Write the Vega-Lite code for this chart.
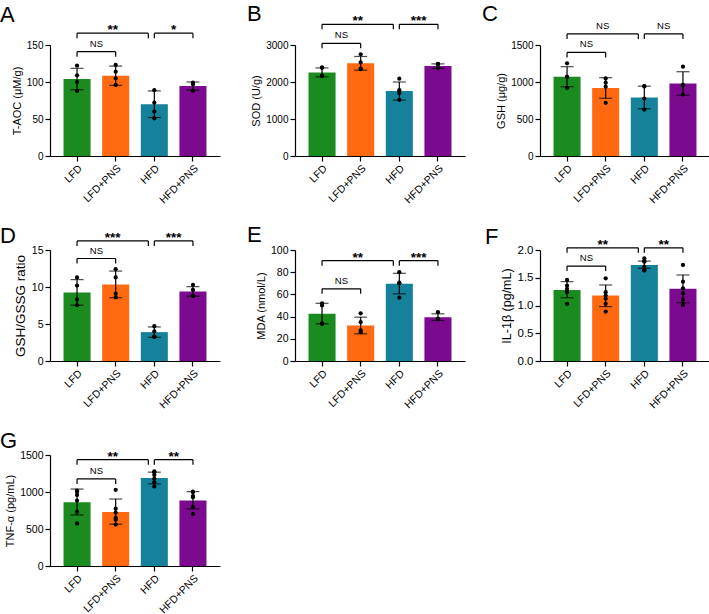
{
"$schema":"https://vega.github.io/schema/vega-lite/v6.json",
"padding":{"left":0,"top":2,"right":5,"bottom":5},
"background":"white",
"datasets":{
"summ":[
{"panel":"A","group":"LFD","mean":104,"lo":89.5,"hi":118.5},
{"panel":"A","group":"LFD+PNS","mean":108.5,"lo":95.5,"hi":121.5},
{"panel":"A","group":"HFD","mean":70,"lo":52,"hi":88},
{"panel":"A","group":"HFD+PNS","mean":94.5,"lo":89,"hi":100},
{"panel":"B","group":"LFD","mean":2260,"lo":2140,"hi":2380},
{"panel":"B","group":"LFD+PNS","mean":2505,"lo":2320,"hi":2690},
{"panel":"B","group":"HFD","mean":1755,"lo":1510,"hi":2000},
{"panel":"B","group":"HFD+PNS","mean":2430,"lo":2370,"hi":2490},
{"panel":"C","group":"LFD","mean":1071,"lo":936,"hi":1207},
{"panel":"C","group":"LFD+PNS","mean":918,"lo":780,"hi":1058},
{"panel":"C","group":"HFD","mean":790,"lo":638,"hi":944},
{"panel":"C","group":"HFD+PNS","mean":980,"lo":822,"hi":1139},
{"panel":"D","group":"LFD","mean":9.25,"lo":7.55,"hi":11.0},
{"panel":"D","group":"LFD+PNS","mean":10.35,"lo":8.55,"hi":12.15},
{"panel":"D","group":"HFD","mean":3.9,"lo":3.2,"hi":4.6},
{"panel":"D","group":"HFD+PNS","mean":9.4,"lo":8.75,"hi":10.05},
{"panel":"E","group":"LFD","mean":42.5,"lo":33.5,"hi":52},
{"panel":"E","group":"LFD+PNS","mean":32,"lo":24.5,"hi":39.5},
{"panel":"E","group":"HFD","mean":69.5,"lo":60.5,"hi":79},
{"panel":"E","group":"HFD+PNS","mean":39.5,"lo":36.5,"hi":42.5},
{"panel":"F","group":"LFD","mean":1.28,"lo":1.14,"hi":1.43},
{"panel":"F","group":"LFD+PNS","mean":1.18,"lo":0.98,"hi":1.37},
{"panel":"F","group":"HFD","mean":1.73,"lo":1.67,"hi":1.80},
{"panel":"F","group":"HFD+PNS","mean":1.30,"lo":1.05,"hi":1.55},
{"panel":"G","group":"LFD","mean":863,"lo":690,"hi":1040},
{"panel":"G","group":"LFD+PNS","mean":730,"lo":565,"hi":905},
{"panel":"G","group":"HFD","mean":1190,"lo":1110,"hi":1268},
{"panel":"G","group":"HFD+PNS","mean":886,"lo":772,"hi":1005}
],
"pts":[
{"panel":"A","group":"LFD","value":122},{"panel":"A","group":"LFD","value":109},{"panel":"A","group":"LFD","value":100},{"panel":"A","group":"LFD","value":88},
{"panel":"A","group":"LFD+PNS","value":123},{"panel":"A","group":"LFD+PNS","value":114},{"panel":"A","group":"LFD+PNS","value":105},{"panel":"A","group":"LFD+PNS","value":96},
{"panel":"A","group":"HFD","value":89},{"panel":"A","group":"HFD","value":72},{"panel":"A","group":"HFD","value":60},{"panel":"A","group":"HFD","value":51},
{"panel":"A","group":"HFD+PNS","value":99},{"panel":"A","group":"HFD+PNS","value":98},{"panel":"A","group":"HFD+PNS","value":97},{"panel":"A","group":"HFD+PNS","value":88},
{"panel":"B","group":"LFD","value":2385},{"panel":"B","group":"LFD","value":2395},{"panel":"B","group":"LFD","value":2170},{"panel":"B","group":"LFD","value":2160},
{"panel":"B","group":"LFD+PNS","value":2750},{"panel":"B","group":"LFD+PNS","value":2530},{"panel":"B","group":"LFD+PNS","value":2360},{"panel":"B","group":"LFD+PNS","value":2350},
{"panel":"B","group":"HFD","value":2090},{"panel":"B","group":"HFD","value":1780},{"panel":"B","group":"HFD","value":1700},{"panel":"B","group":"HFD","value":1520},
{"panel":"B","group":"HFD+PNS","value":2480},{"panel":"B","group":"HFD+PNS","value":2490},{"panel":"B","group":"HFD+PNS","value":2400},{"panel":"B","group":"HFD+PNS","value":2380},
{"panel":"C","group":"LFD","value":1252},{"panel":"C","group":"LFD","value":1071},{"panel":"C","group":"LFD","value":1068},{"panel":"C","group":"LFD","value":922},
{"panel":"C","group":"LFD+PNS","value":1048},{"panel":"C","group":"LFD+PNS","value":990},{"panel":"C","group":"LFD+PNS","value":936},{"panel":"C","group":"LFD+PNS","value":719},
{"panel":"C","group":"HFD","value":945},{"panel":"C","group":"HFD","value":940},{"panel":"C","group":"HFD","value":777},{"panel":"C","group":"HFD","value":628},
{"panel":"C","group":"HFD+PNS","value":1207},{"panel":"C","group":"HFD+PNS","value":960},{"panel":"C","group":"HFD+PNS","value":955},{"panel":"C","group":"HFD+PNS","value":831},
{"panel":"D","group":"LFD","value":11.3},{"panel":"D","group":"LFD","value":10.2},{"panel":"D","group":"LFD","value":8.3},{"panel":"D","group":"LFD","value":7.55},
{"panel":"D","group":"LFD+PNS","value":12.4},{"panel":"D","group":"LFD+PNS","value":11.3},{"panel":"D","group":"LFD+PNS","value":9.1},{"panel":"D","group":"LFD+PNS","value":8.6},
{"panel":"D","group":"HFD","value":4.7},{"panel":"D","group":"HFD","value":4.0},{"panel":"D","group":"HFD","value":3.25},{"panel":"D","group":"HFD","value":3.3},
{"panel":"D","group":"HFD+PNS","value":10.3},{"panel":"D","group":"HFD+PNS","value":9.6},{"panel":"D","group":"HFD+PNS","value":8.85},{"panel":"D","group":"HFD+PNS","value":8.8},
{"panel":"E","group":"LFD","value":50},{"panel":"E","group":"LFD","value":52},{"panel":"E","group":"LFD","value":34},{"panel":"E","group":"LFD","value":33.5},
{"panel":"E","group":"LFD+PNS","value":43},{"panel":"E","group":"LFD+PNS","value":35},{"panel":"E","group":"LFD+PNS","value":27.5},{"panel":"E","group":"LFD+PNS","value":26},
{"panel":"E","group":"HFD","value":80},{"panel":"E","group":"HFD","value":70.5},{"panel":"E","group":"HFD","value":70},{"panel":"E","group":"HFD","value":57},
{"panel":"E","group":"HFD+PNS","value":44},{"panel":"E","group":"HFD+PNS","value":38},{"panel":"E","group":"HFD+PNS","value":38.2},{"panel":"E","group":"HFD+PNS","value":37.8},
{"panel":"F","group":"LFD","value":1.46},{"panel":"F","group":"LFD","value":1.36},{"panel":"F","group":"LFD","value":1.30},{"panel":"F","group":"LFD","value":1.26},{"panel":"F","group":"LFD","value":1.24},{"panel":"F","group":"LFD","value":1.03},
{"panel":"F","group":"LFD+PNS","value":1.49},{"panel":"F","group":"LFD+PNS","value":1.24},{"panel":"F","group":"LFD+PNS","value":1.18},{"panel":"F","group":"LFD+PNS","value":1.12},{"panel":"F","group":"LFD+PNS","value":1.03},{"panel":"F","group":"LFD+PNS","value":0.89},
{"panel":"F","group":"HFD","value":1.85},{"panel":"F","group":"HFD","value":1.80},{"panel":"F","group":"HFD","value":1.79},{"panel":"F","group":"HFD","value":1.70},{"panel":"F","group":"HFD","value":1.64},{"panel":"F","group":"HFD","value":1.63},
{"panel":"F","group":"HFD+PNS","value":1.73},{"panel":"F","group":"HFD+PNS","value":1.43},{"panel":"F","group":"HFD+PNS","value":1.31},{"panel":"F","group":"HFD+PNS","value":1.22},{"panel":"F","group":"HFD+PNS","value":1.10},{"panel":"F","group":"HFD+PNS","value":1.01},
{"panel":"G","group":"LFD","value":1020},{"panel":"G","group":"LFD","value":1005},{"panel":"G","group":"LFD","value":960},{"panel":"G","group":"LFD","value":885},{"panel":"G","group":"LFD","value":730},{"panel":"G","group":"LFD","value":575},
{"panel":"G","group":"LFD+PNS","value":1030},{"panel":"G","group":"LFD+PNS","value":775},{"panel":"G","group":"LFD+PNS","value":720},{"panel":"G","group":"LFD+PNS","value":650},{"panel":"G","group":"LFD+PNS","value":625},{"panel":"G","group":"LFD+PNS","value":560},
{"panel":"G","group":"HFD","value":1265},{"panel":"G","group":"HFD","value":1280},{"panel":"G","group":"HFD","value":1230},{"panel":"G","group":"HFD","value":1180},{"panel":"G","group":"HFD","value":1130},{"panel":"G","group":"HFD","value":1075},
{"panel":"G","group":"HFD+PNS","value":1005},{"panel":"G","group":"HFD+PNS","value":1000},{"panel":"G","group":"HFD+PNS","value":945},{"panel":"G","group":"HFD+PNS","value":930},{"panel":"G","group":"HFD+PNS","value":795},{"panel":"G","group":"HFD+PNS","value":700}
],
"sig":[
{"panel":"A","from":"LFD","to":"LFD+PNS","level":141,"label":"NS"},
{"panel":"A","from":"LFD","to":"HFD","level":166,"label":"**"},
{"panel":"A","from":"HFD","to":"HFD+PNS","level":166,"label":"*"},
{"panel":"B","from":"LFD","to":"LFD+PNS","level":3045,"label":"NS"},
{"panel":"B","from":"LFD","to":"HFD","level":3560,"label":"**"},
{"panel":"B","from":"HFD","to":"HFD+PNS","level":3560,"label":"***"},
{"panel":"C","from":"LFD","to":"LFD+PNS","level":1400,"label":"NS"},
{"panel":"C","from":"LFD","to":"HFD","level":1649,"label":"NS"},
{"panel":"C","from":"HFD","to":"HFD+PNS","level":1649,"label":"NS"},
{"panel":"D","from":"LFD","to":"LFD+PNS","level":13.85,"label":"NS"},
{"panel":"D","from":"LFD","to":"HFD","level":16.23,"label":"***"},
{"panel":"D","from":"HFD","to":"HFD+PNS","level":16.23,"label":"***"},
{"panel":"E","from":"LFD","to":"LFD+PNS","level":65,"label":"NS"},
{"panel":"E","from":"LFD","to":"HFD","level":90.4,"label":"**"},
{"panel":"E","from":"HFD","to":"HFD+PNS","level":90.4,"label":"***"},
{"panel":"F","from":"LFD","to":"LFD+PNS","level":1.71,"label":"NS"},
{"panel":"F","from":"LFD","to":"HFD","level":2.04,"label":"**"},
{"panel":"F","from":"HFD","to":"HFD+PNS","level":2.04,"label":"**"},
{"panel":"G","from":"LFD","to":"LFD+PNS","level":1177,"label":"NS"},
{"panel":"G","from":"LFD","to":"HFD","level":1437,"label":"**"},
{"panel":"G","from":"HFD","to":"HFD+PNS","level":1437,"label":"**"}
]
},
"columns":3,
"bounds":"flush",
"spacing":{"row":94,"column":75},
"concat":[
{"width":170,"height":111,"title":{"text":"A","dx":-50,"dy":8},
"encoding":{"x":{"field":"group","type":"nominal","scale":{"domain":["LFD","LFD+PNS","HFD","HFD+PNS"],"paddingInner":0.3,"paddingOuter":0.35},"axis":{"title":null}}},
"layer":[
{"data":{"name":"summ"},"transform":[{"filter":"datum.panel==='A'"}],"mark":{"type":"bar"},"encoding":{"y":{"field":"mean","type":"quantitative","scale":{"domain":[0,150],"nice":false},"axis":{"title":"T-AOC (μM/g)","values":[0,50,100,150]}},"color":{"field":"group","type":"nominal","scale":{"domain":["LFD","LFD+PNS","HFD","HFD+PNS"],"range":["#1a8c1f","#ff6a10","#15819a","#7c0a8e"]},"legend":null}}},
{"data":{"name":"summ"},"transform":[{"filter":"datum.panel==='A'"}],"mark":{"type":"rule","color":"#000","strokeWidth":1.2},"encoding":{"y":{"field":"lo","type":"quantitative","axis":{"title":"T-AOC (μM/g)","values":[0,50,100,150]}},"y2":{"field":"hi"}}},
{"data":{"name":"summ"},"transform":[{"filter":"datum.panel==='A'"}],"mark":{"type":"tick","color":"#000","size":13,"thickness":1.2},"encoding":{"y":{"field":"lo","type":"quantitative","axis":{"title":"T-AOC (μM/g)","values":[0,50,100,150]}}}},
{"data":{"name":"summ"},"transform":[{"filter":"datum.panel==='A'"}],"mark":{"type":"tick","color":"#000","size":13,"thickness":1.2},"encoding":{"y":{"field":"hi","type":"quantitative","axis":{"title":"T-AOC (μM/g)","values":[0,50,100,150]}}}},
{"data":{"name":"pts"},"transform":[{"filter":"datum.panel==='A'"}],"mark":{"type":"circle","color":"#000","size":18,"opacity":1},"encoding":{"y":{"field":"value","type":"quantitative","axis":{"title":"T-AOC (μM/g)","values":[0,50,100,150]}}}},
{"data":{"name":"sig"},"transform":[{"filter":"datum.panel==='A' && datum.to!=='HFD'"}],"mark":{"type":"rule","color":"#000","strokeWidth":1.2},"encoding":{"x":{"field":"from","type":"nominal"},"x2":{"field":"to"},"y":{"field":"level","type":"quantitative","axis":{"title":"T-AOC (μM/g)","values":[0,50,100,150]}}}},
{"data":{"name":"sig"},"transform":[{"filter":"datum.panel==='A' && datum.to==='HFD'"}],"mark":{"type":"rule","color":"#000","strokeWidth":1.2,"x2Offset":-6},"encoding":{"x":{"field":"from","type":"nominal"},"x2":{"field":"to"},"y":{"field":"level","type":"quantitative","axis":{"title":"T-AOC (μM/g)","values":[0,50,100,150]}}}},
{"data":{"name":"sig"},"transform":[{"filter":"datum.panel==='A'"}],"mark":{"type":"rule","color":"#000","strokeWidth":1.2,"y2Offset":5},"encoding":{"x":{"field":"from","type":"nominal"},"y":{"field":"level","type":"quantitative","axis":{"title":"T-AOC (μM/g)","values":[0,50,100,150]}},"y2":{"field":"level"}}},
{"data":{"name":"sig"},"transform":[{"filter":"datum.panel==='A' && datum.to!=='HFD'"}],"mark":{"type":"rule","color":"#000","strokeWidth":1.2,"y2Offset":5},"encoding":{"x":{"field":"to","type":"nominal"},"y":{"field":"level","type":"quantitative","axis":{"title":"T-AOC (μM/g)","values":[0,50,100,150]}},"y2":{"field":"level"}}},
{"data":{"name":"sig"},"transform":[{"filter":"datum.panel==='A' && datum.to==='HFD'"}],"mark":{"type":"rule","color":"#000","strokeWidth":1.2,"y2Offset":5,"xOffset":-6},"encoding":{"x":{"field":"to","type":"nominal"},"y":{"field":"level","type":"quantitative","axis":{"title":"T-AOC (μM/g)","values":[0,50,100,150]}},"y2":{"field":"level"}}},
{"data":{"name":"sig"},"transform":[{"filter":"datum.panel==='A' && datum.to!=='HFD' && datum.label==='NS'"}],"mark":{"type":"text","fontSize":9.5,"baseline":"alphabetic","dy":-5},"encoding":{"x":{"field":"from","type":"nominal","bandPosition":1.2143},"y":{"field":"level","type":"quantitative","axis":{"title":"T-AOC (μM/g)","values":[0,50,100,150]}},"text":{"field":"label"}}},
{"data":{"name":"sig"},"transform":[{"filter":"datum.panel==='A' && datum.to!=='HFD' && datum.label!=='NS'"}],"mark":{"type":"text","fontSize":13.5,"fontWeight":"bold","baseline":"alphabetic","dy":1},"encoding":{"x":{"field":"from","type":"nominal","bandPosition":1.2143},"y":{"field":"level","type":"quantitative","axis":{"title":"T-AOC (μM/g)","values":[0,50,100,150]}},"text":{"field":"label"}}},
{"data":{"name":"sig"},"transform":[{"filter":"datum.panel==='A' && datum.to==='HFD' && datum.label==='NS'"}],"mark":{"type":"text","fontSize":9.5,"baseline":"alphabetic","dy":-5,"dx":-3},"encoding":{"x":{"field":"from","type":"nominal","bandPosition":1.9286},"y":{"field":"level","type":"quantitative","axis":{"title":"T-AOC (μM/g)","values":[0,50,100,150]}},"text":{"field":"label"}}},
{"data":{"name":"sig"},"transform":[{"filter":"datum.panel==='A' && datum.to==='HFD' && datum.label!=='NS'"}],"mark":{"type":"text","fontSize":13.5,"fontWeight":"bold","baseline":"alphabetic","dy":1,"dx":-3},"encoding":{"x":{"field":"from","type":"nominal","bandPosition":1.9286},"y":{"field":"level","type":"quantitative","axis":{"title":"T-AOC (μM/g)","values":[0,50,100,150]}},"text":{"field":"label"}}}
]},
{"width":170,"height":111,"title":{"text":"B","dx":-48,"dy":16},
"encoding":{"x":{"field":"group","type":"nominal","scale":{"domain":["LFD","LFD+PNS","HFD","HFD+PNS"],"paddingInner":0.3,"paddingOuter":0.35},"axis":{"title":null}}},
"layer":[
{"data":{"name":"summ"},"transform":[{"filter":"datum.panel==='B'"}],"mark":{"type":"bar"},"encoding":{"y":{"field":"mean","type":"quantitative","scale":{"domain":[0,3000],"nice":false},"axis":{"title":"SOD (U/g)","values":[0,1000,2000,3000],"format":"d"}},"color":{"field":"group","type":"nominal","scale":{"domain":["LFD","LFD+PNS","HFD","HFD+PNS"],"range":["#1a8c1f","#ff6a10","#15819a","#7c0a8e"]},"legend":null}}},
{"data":{"name":"summ"},"transform":[{"filter":"datum.panel==='B'"}],"mark":{"type":"rule","color":"#000","strokeWidth":1.2},"encoding":{"y":{"field":"lo","type":"quantitative","axis":{"title":"SOD (U/g)","values":[0,1000,2000,3000],"format":"d"}},"y2":{"field":"hi"}}},
{"data":{"name":"summ"},"transform":[{"filter":"datum.panel==='B'"}],"mark":{"type":"tick","color":"#000","size":13,"thickness":1.2},"encoding":{"y":{"field":"lo","type":"quantitative","axis":{"title":"SOD (U/g)","values":[0,1000,2000,3000],"format":"d"}}}},
{"data":{"name":"summ"},"transform":[{"filter":"datum.panel==='B'"}],"mark":{"type":"tick","color":"#000","size":13,"thickness":1.2},"encoding":{"y":{"field":"hi","type":"quantitative","axis":{"title":"SOD (U/g)","values":[0,1000,2000,3000],"format":"d"}}}},
{"data":{"name":"pts"},"transform":[{"filter":"datum.panel==='B'"}],"mark":{"type":"circle","color":"#000","size":18,"opacity":1},"encoding":{"y":{"field":"value","type":"quantitative","axis":{"title":"SOD (U/g)","values":[0,1000,2000,3000],"format":"d"}}}},
{"data":{"name":"sig"},"transform":[{"filter":"datum.panel==='B' && datum.to!=='HFD'"}],"mark":{"type":"rule","color":"#000","strokeWidth":1.2},"encoding":{"x":{"field":"from","type":"nominal"},"x2":{"field":"to"},"y":{"field":"level","type":"quantitative","axis":{"title":"SOD (U/g)","values":[0,1000,2000,3000],"format":"d"}}}},
{"data":{"name":"sig"},"transform":[{"filter":"datum.panel==='B' && datum.to==='HFD'"}],"mark":{"type":"rule","color":"#000","strokeWidth":1.2,"x2Offset":-6},"encoding":{"x":{"field":"from","type":"nominal"},"x2":{"field":"to"},"y":{"field":"level","type":"quantitative","axis":{"title":"SOD (U/g)","values":[0,1000,2000,3000],"format":"d"}}}},
{"data":{"name":"sig"},"transform":[{"filter":"datum.panel==='B'"}],"mark":{"type":"rule","color":"#000","strokeWidth":1.2,"y2Offset":5},"encoding":{"x":{"field":"from","type":"nominal"},"y":{"field":"level","type":"quantitative","axis":{"title":"SOD (U/g)","values":[0,1000,2000,3000],"format":"d"}},"y2":{"field":"level"}}},
{"data":{"name":"sig"},"transform":[{"filter":"datum.panel==='B' && datum.to!=='HFD'"}],"mark":{"type":"rule","color":"#000","strokeWidth":1.2,"y2Offset":5},"encoding":{"x":{"field":"to","type":"nominal"},"y":{"field":"level","type":"quantitative","axis":{"title":"SOD (U/g)","values":[0,1000,2000,3000],"format":"d"}},"y2":{"field":"level"}}},
{"data":{"name":"sig"},"transform":[{"filter":"datum.panel==='B' && datum.to==='HFD'"}],"mark":{"type":"rule","color":"#000","strokeWidth":1.2,"y2Offset":5,"xOffset":-6},"encoding":{"x":{"field":"to","type":"nominal"},"y":{"field":"level","type":"quantitative","axis":{"title":"SOD (U/g)","values":[0,1000,2000,3000],"format":"d"}},"y2":{"field":"level"}}},
{"data":{"name":"sig"},"transform":[{"filter":"datum.panel==='B' && datum.to!=='HFD' && datum.label==='NS'"}],"mark":{"type":"text","fontSize":9.5,"baseline":"alphabetic","dy":-5},"encoding":{"x":{"field":"from","type":"nominal","bandPosition":1.2143},"y":{"field":"level","type":"quantitative","axis":{"title":"SOD (U/g)","values":[0,1000,2000,3000],"format":"d"}},"text":{"field":"label"}}},
{"data":{"name":"sig"},"transform":[{"filter":"datum.panel==='B' && datum.to!=='HFD' && datum.label!=='NS'"}],"mark":{"type":"text","fontSize":13.5,"fontWeight":"bold","baseline":"alphabetic","dy":1},"encoding":{"x":{"field":"from","type":"nominal","bandPosition":1.2143},"y":{"field":"level","type":"quantitative","axis":{"title":"SOD (U/g)","values":[0,1000,2000,3000],"format":"d"}},"text":{"field":"label"}}},
{"data":{"name":"sig"},"transform":[{"filter":"datum.panel==='B' && datum.to==='HFD' && datum.label==='NS'"}],"mark":{"type":"text","fontSize":9.5,"baseline":"alphabetic","dy":-5,"dx":-3},"encoding":{"x":{"field":"from","type":"nominal","bandPosition":1.9286},"y":{"field":"level","type":"quantitative","axis":{"title":"SOD (U/g)","values":[0,1000,2000,3000],"format":"d"}},"text":{"field":"label"}}},
{"data":{"name":"sig"},"transform":[{"filter":"datum.panel==='B' && datum.to==='HFD' && datum.label!=='NS'"}],"mark":{"type":"text","fontSize":13.5,"fontWeight":"bold","baseline":"alphabetic","dy":1,"dx":-3},"encoding":{"x":{"field":"from","type":"nominal","bandPosition":1.9286},"y":{"field":"level","type":"quantitative","axis":{"title":"SOD (U/g)","values":[0,1000,2000,3000],"format":"d"}},"text":{"field":"label"}}}
]},
{"width":170,"height":111,"title":{"text":"C","dx":-58,"dy":9},
"encoding":{"x":{"field":"group","type":"nominal","scale":{"domain":["LFD","LFD+PNS","HFD","HFD+PNS"],"paddingInner":0.3,"paddingOuter":0.35},"axis":{"title":null}}},
"layer":[
{"data":{"name":"summ"},"transform":[{"filter":"datum.panel==='C'"}],"mark":{"type":"bar"},"encoding":{"y":{"field":"mean","type":"quantitative","scale":{"domain":[0,1500],"nice":false},"axis":{"title":"GSH (μg/g)","values":[0,500,1000,1500],"format":"d"}},"color":{"field":"group","type":"nominal","scale":{"domain":["LFD","LFD+PNS","HFD","HFD+PNS"],"range":["#1a8c1f","#ff6a10","#15819a","#7c0a8e"]},"legend":null}}},
{"data":{"name":"summ"},"transform":[{"filter":"datum.panel==='C'"}],"mark":{"type":"rule","color":"#000","strokeWidth":1.2},"encoding":{"y":{"field":"lo","type":"quantitative","axis":{"title":"GSH (μg/g)","values":[0,500,1000,1500],"format":"d"}},"y2":{"field":"hi"}}},
{"data":{"name":"summ"},"transform":[{"filter":"datum.panel==='C'"}],"mark":{"type":"tick","color":"#000","size":13,"thickness":1.2},"encoding":{"y":{"field":"lo","type":"quantitative","axis":{"title":"GSH (μg/g)","values":[0,500,1000,1500],"format":"d"}}}},
{"data":{"name":"summ"},"transform":[{"filter":"datum.panel==='C'"}],"mark":{"type":"tick","color":"#000","size":13,"thickness":1.2},"encoding":{"y":{"field":"hi","type":"quantitative","axis":{"title":"GSH (μg/g)","values":[0,500,1000,1500],"format":"d"}}}},
{"data":{"name":"pts"},"transform":[{"filter":"datum.panel==='C'"}],"mark":{"type":"circle","color":"#000","size":18,"opacity":1},"encoding":{"y":{"field":"value","type":"quantitative","axis":{"title":"GSH (μg/g)","values":[0,500,1000,1500],"format":"d"}}}},
{"data":{"name":"sig"},"transform":[{"filter":"datum.panel==='C' && datum.to!=='HFD'"}],"mark":{"type":"rule","color":"#000","strokeWidth":1.2},"encoding":{"x":{"field":"from","type":"nominal"},"x2":{"field":"to"},"y":{"field":"level","type":"quantitative","axis":{"title":"GSH (μg/g)","values":[0,500,1000,1500],"format":"d"}}}},
{"data":{"name":"sig"},"transform":[{"filter":"datum.panel==='C' && datum.to==='HFD'"}],"mark":{"type":"rule","color":"#000","strokeWidth":1.2,"x2Offset":-6},"encoding":{"x":{"field":"from","type":"nominal"},"x2":{"field":"to"},"y":{"field":"level","type":"quantitative","axis":{"title":"GSH (μg/g)","values":[0,500,1000,1500],"format":"d"}}}},
{"data":{"name":"sig"},"transform":[{"filter":"datum.panel==='C'"}],"mark":{"type":"rule","color":"#000","strokeWidth":1.2,"y2Offset":5},"encoding":{"x":{"field":"from","type":"nominal"},"y":{"field":"level","type":"quantitative","axis":{"title":"GSH (μg/g)","values":[0,500,1000,1500],"format":"d"}},"y2":{"field":"level"}}},
{"data":{"name":"sig"},"transform":[{"filter":"datum.panel==='C' && datum.to!=='HFD'"}],"mark":{"type":"rule","color":"#000","strokeWidth":1.2,"y2Offset":5},"encoding":{"x":{"field":"to","type":"nominal"},"y":{"field":"level","type":"quantitative","axis":{"title":"GSH (μg/g)","values":[0,500,1000,1500],"format":"d"}},"y2":{"field":"level"}}},
{"data":{"name":"sig"},"transform":[{"filter":"datum.panel==='C' && datum.to==='HFD'"}],"mark":{"type":"rule","color":"#000","strokeWidth":1.2,"y2Offset":5,"xOffset":-6},"encoding":{"x":{"field":"to","type":"nominal"},"y":{"field":"level","type":"quantitative","axis":{"title":"GSH (μg/g)","values":[0,500,1000,1500],"format":"d"}},"y2":{"field":"level"}}},
{"data":{"name":"sig"},"transform":[{"filter":"datum.panel==='C' && datum.to!=='HFD' && datum.label==='NS'"}],"mark":{"type":"text","fontSize":9.5,"baseline":"alphabetic","dy":-5},"encoding":{"x":{"field":"from","type":"nominal","bandPosition":1.2143},"y":{"field":"level","type":"quantitative","axis":{"title":"GSH (μg/g)","values":[0,500,1000,1500],"format":"d"}},"text":{"field":"label"}}},
{"data":{"name":"sig"},"transform":[{"filter":"datum.panel==='C' && datum.to!=='HFD' && datum.label!=='NS'"}],"mark":{"type":"text","fontSize":13.5,"fontWeight":"bold","baseline":"alphabetic","dy":1},"encoding":{"x":{"field":"from","type":"nominal","bandPosition":1.2143},"y":{"field":"level","type":"quantitative","axis":{"title":"GSH (μg/g)","values":[0,500,1000,1500],"format":"d"}},"text":{"field":"label"}}},
{"data":{"name":"sig"},"transform":[{"filter":"datum.panel==='C' && datum.to==='HFD' && datum.label==='NS'"}],"mark":{"type":"text","fontSize":9.5,"baseline":"alphabetic","dy":-5,"dx":-3},"encoding":{"x":{"field":"from","type":"nominal","bandPosition":1.9286},"y":{"field":"level","type":"quantitative","axis":{"title":"GSH (μg/g)","values":[0,500,1000,1500],"format":"d"}},"text":{"field":"label"}}},
{"data":{"name":"sig"},"transform":[{"filter":"datum.panel==='C' && datum.to==='HFD' && datum.label!=='NS'"}],"mark":{"type":"text","fontSize":13.5,"fontWeight":"bold","baseline":"alphabetic","dy":1,"dx":-3},"encoding":{"x":{"field":"from","type":"nominal","bandPosition":1.9286},"y":{"field":"level","type":"quantitative","axis":{"title":"GSH (μg/g)","values":[0,500,1000,1500],"format":"d"}},"text":{"field":"label"}}}
]},
{"width":170,"height":111,"title":{"text":"D","dx":-50,"dy":21},
"encoding":{"x":{"field":"group","type":"nominal","scale":{"domain":["LFD","LFD+PNS","HFD","HFD+PNS"],"paddingInner":0.3,"paddingOuter":0.35},"axis":{"title":null}}},
"layer":[
{"data":{"name":"summ"},"transform":[{"filter":"datum.panel==='D'"}],"mark":{"type":"bar"},"encoding":{"y":{"field":"mean","type":"quantitative","scale":{"domain":[0,15],"nice":false},"axis":{"title":"GSH/GSSG ratio","values":[0,5,10,15],"titleFontSize":13.5,"labelFontSize":10.5}},"color":{"field":"group","type":"nominal","scale":{"domain":["LFD","LFD+PNS","HFD","HFD+PNS"],"range":["#1a8c1f","#ff6a10","#15819a","#7c0a8e"]},"legend":null}}},
{"data":{"name":"summ"},"transform":[{"filter":"datum.panel==='D'"}],"mark":{"type":"rule","color":"#000","strokeWidth":1.2},"encoding":{"y":{"field":"lo","type":"quantitative","axis":{"title":"GSH/GSSG ratio","values":[0,5,10,15],"titleFontSize":13.5,"labelFontSize":10.5}},"y2":{"field":"hi"}}},
{"data":{"name":"summ"},"transform":[{"filter":"datum.panel==='D'"}],"mark":{"type":"tick","color":"#000","size":13,"thickness":1.2},"encoding":{"y":{"field":"lo","type":"quantitative","axis":{"title":"GSH/GSSG ratio","values":[0,5,10,15],"titleFontSize":13.5,"labelFontSize":10.5}}}},
{"data":{"name":"summ"},"transform":[{"filter":"datum.panel==='D'"}],"mark":{"type":"tick","color":"#000","size":13,"thickness":1.2},"encoding":{"y":{"field":"hi","type":"quantitative","axis":{"title":"GSH/GSSG ratio","values":[0,5,10,15],"titleFontSize":13.5,"labelFontSize":10.5}}}},
{"data":{"name":"pts"},"transform":[{"filter":"datum.panel==='D'"}],"mark":{"type":"circle","color":"#000","size":18,"opacity":1},"encoding":{"y":{"field":"value","type":"quantitative","axis":{"title":"GSH/GSSG ratio","values":[0,5,10,15],"titleFontSize":13.5,"labelFontSize":10.5}}}},
{"data":{"name":"sig"},"transform":[{"filter":"datum.panel==='D' && datum.to!=='HFD'"}],"mark":{"type":"rule","color":"#000","strokeWidth":1.2},"encoding":{"x":{"field":"from","type":"nominal"},"x2":{"field":"to"},"y":{"field":"level","type":"quantitative","axis":{"title":"GSH/GSSG ratio","values":[0,5,10,15],"titleFontSize":13.5,"labelFontSize":10.5}}}},
{"data":{"name":"sig"},"transform":[{"filter":"datum.panel==='D' && datum.to==='HFD'"}],"mark":{"type":"rule","color":"#000","strokeWidth":1.2,"x2Offset":-6},"encoding":{"x":{"field":"from","type":"nominal"},"x2":{"field":"to"},"y":{"field":"level","type":"quantitative","axis":{"title":"GSH/GSSG ratio","values":[0,5,10,15],"titleFontSize":13.5,"labelFontSize":10.5}}}},
{"data":{"name":"sig"},"transform":[{"filter":"datum.panel==='D'"}],"mark":{"type":"rule","color":"#000","strokeWidth":1.2,"y2Offset":5},"encoding":{"x":{"field":"from","type":"nominal"},"y":{"field":"level","type":"quantitative","axis":{"title":"GSH/GSSG ratio","values":[0,5,10,15],"titleFontSize":13.5,"labelFontSize":10.5}},"y2":{"field":"level"}}},
{"data":{"name":"sig"},"transform":[{"filter":"datum.panel==='D' && datum.to!=='HFD'"}],"mark":{"type":"rule","color":"#000","strokeWidth":1.2,"y2Offset":5},"encoding":{"x":{"field":"to","type":"nominal"},"y":{"field":"level","type":"quantitative","axis":{"title":"GSH/GSSG ratio","values":[0,5,10,15],"titleFontSize":13.5,"labelFontSize":10.5}},"y2":{"field":"level"}}},
{"data":{"name":"sig"},"transform":[{"filter":"datum.panel==='D' && datum.to==='HFD'"}],"mark":{"type":"rule","color":"#000","strokeWidth":1.2,"y2Offset":5,"xOffset":-6},"encoding":{"x":{"field":"to","type":"nominal"},"y":{"field":"level","type":"quantitative","axis":{"title":"GSH/GSSG ratio","values":[0,5,10,15],"titleFontSize":13.5,"labelFontSize":10.5}},"y2":{"field":"level"}}},
{"data":{"name":"sig"},"transform":[{"filter":"datum.panel==='D' && datum.to!=='HFD' && datum.label==='NS'"}],"mark":{"type":"text","fontSize":9.5,"baseline":"alphabetic","dy":-5},"encoding":{"x":{"field":"from","type":"nominal","bandPosition":1.2143},"y":{"field":"level","type":"quantitative","axis":{"title":"GSH/GSSG ratio","values":[0,5,10,15],"titleFontSize":13.5,"labelFontSize":10.5}},"text":{"field":"label"}}},
{"data":{"name":"sig"},"transform":[{"filter":"datum.panel==='D' && datum.to!=='HFD' && datum.label!=='NS'"}],"mark":{"type":"text","fontSize":13.5,"fontWeight":"bold","baseline":"alphabetic","dy":1},"encoding":{"x":{"field":"from","type":"nominal","bandPosition":1.2143},"y":{"field":"level","type":"quantitative","axis":{"title":"GSH/GSSG ratio","values":[0,5,10,15],"titleFontSize":13.5,"labelFontSize":10.5}},"text":{"field":"label"}}},
{"data":{"name":"sig"},"transform":[{"filter":"datum.panel==='D' && datum.to==='HFD' && datum.label==='NS'"}],"mark":{"type":"text","fontSize":9.5,"baseline":"alphabetic","dy":-5,"dx":-3},"encoding":{"x":{"field":"from","type":"nominal","bandPosition":1.9286},"y":{"field":"level","type":"quantitative","axis":{"title":"GSH/GSSG ratio","values":[0,5,10,15],"titleFontSize":13.5,"labelFontSize":10.5}},"text":{"field":"label"}}},
{"data":{"name":"sig"},"transform":[{"filter":"datum.panel==='D' && datum.to==='HFD' && datum.label!=='NS'"}],"mark":{"type":"text","fontSize":13.5,"fontWeight":"bold","baseline":"alphabetic","dy":1,"dx":-3},"encoding":{"x":{"field":"from","type":"nominal","bandPosition":1.9286},"y":{"field":"level","type":"quantitative","axis":{"title":"GSH/GSSG ratio","values":[0,5,10,15],"titleFontSize":13.5,"labelFontSize":10.5}},"text":{"field":"label"}}}
]},
{"width":170,"height":111,"title":{"text":"E","dx":-48,"dy":6},
"encoding":{"x":{"field":"group","type":"nominal","scale":{"domain":["LFD","LFD+PNS","HFD","HFD+PNS"],"paddingInner":0.3,"paddingOuter":0.35},"axis":{"title":null}}},
"layer":[
{"data":{"name":"summ"},"transform":[{"filter":"datum.panel==='E'"}],"mark":{"type":"bar"},"encoding":{"y":{"field":"mean","type":"quantitative","scale":{"domain":[0,100],"nice":false},"axis":{"title":"MDA (nmol/L)","values":[0,20,40,60,80,100],"labelFontSize":10.5}},"color":{"field":"group","type":"nominal","scale":{"domain":["LFD","LFD+PNS","HFD","HFD+PNS"],"range":["#1a8c1f","#ff6a10","#15819a","#7c0a8e"]},"legend":null}}},
{"data":{"name":"summ"},"transform":[{"filter":"datum.panel==='E'"}],"mark":{"type":"rule","color":"#000","strokeWidth":1.2},"encoding":{"y":{"field":"lo","type":"quantitative","axis":{"title":"MDA (nmol/L)","values":[0,20,40,60,80,100],"labelFontSize":10.5}},"y2":{"field":"hi"}}},
{"data":{"name":"summ"},"transform":[{"filter":"datum.panel==='E'"}],"mark":{"type":"tick","color":"#000","size":13,"thickness":1.2},"encoding":{"y":{"field":"lo","type":"quantitative","axis":{"title":"MDA (nmol/L)","values":[0,20,40,60,80,100],"labelFontSize":10.5}}}},
{"data":{"name":"summ"},"transform":[{"filter":"datum.panel==='E'"}],"mark":{"type":"tick","color":"#000","size":13,"thickness":1.2},"encoding":{"y":{"field":"hi","type":"quantitative","axis":{"title":"MDA (nmol/L)","values":[0,20,40,60,80,100],"labelFontSize":10.5}}}},
{"data":{"name":"pts"},"transform":[{"filter":"datum.panel==='E'"}],"mark":{"type":"circle","color":"#000","size":18,"opacity":1},"encoding":{"y":{"field":"value","type":"quantitative","axis":{"title":"MDA (nmol/L)","values":[0,20,40,60,80,100],"labelFontSize":10.5}}}},
{"data":{"name":"sig"},"transform":[{"filter":"datum.panel==='E' && datum.to!=='HFD'"}],"mark":{"type":"rule","color":"#000","strokeWidth":1.2},"encoding":{"x":{"field":"from","type":"nominal"},"x2":{"field":"to"},"y":{"field":"level","type":"quantitative","axis":{"title":"MDA (nmol/L)","values":[0,20,40,60,80,100],"labelFontSize":10.5}}}},
{"data":{"name":"sig"},"transform":[{"filter":"datum.panel==='E' && datum.to==='HFD'"}],"mark":{"type":"rule","color":"#000","strokeWidth":1.2,"x2Offset":-6},"encoding":{"x":{"field":"from","type":"nominal"},"x2":{"field":"to"},"y":{"field":"level","type":"quantitative","axis":{"title":"MDA (nmol/L)","values":[0,20,40,60,80,100],"labelFontSize":10.5}}}},
{"data":{"name":"sig"},"transform":[{"filter":"datum.panel==='E'"}],"mark":{"type":"rule","color":"#000","strokeWidth":1.2,"y2Offset":5},"encoding":{"x":{"field":"from","type":"nominal"},"y":{"field":"level","type":"quantitative","axis":{"title":"MDA (nmol/L)","values":[0,20,40,60,80,100],"labelFontSize":10.5}},"y2":{"field":"level"}}},
{"data":{"name":"sig"},"transform":[{"filter":"datum.panel==='E' && datum.to!=='HFD'"}],"mark":{"type":"rule","color":"#000","strokeWidth":1.2,"y2Offset":5},"encoding":{"x":{"field":"to","type":"nominal"},"y":{"field":"level","type":"quantitative","axis":{"title":"MDA (nmol/L)","values":[0,20,40,60,80,100],"labelFontSize":10.5}},"y2":{"field":"level"}}},
{"data":{"name":"sig"},"transform":[{"filter":"datum.panel==='E' && datum.to==='HFD'"}],"mark":{"type":"rule","color":"#000","strokeWidth":1.2,"y2Offset":5,"xOffset":-6},"encoding":{"x":{"field":"to","type":"nominal"},"y":{"field":"level","type":"quantitative","axis":{"title":"MDA (nmol/L)","values":[0,20,40,60,80,100],"labelFontSize":10.5}},"y2":{"field":"level"}}},
{"data":{"name":"sig"},"transform":[{"filter":"datum.panel==='E' && datum.to!=='HFD' && datum.label==='NS'"}],"mark":{"type":"text","fontSize":9.5,"baseline":"alphabetic","dy":-5},"encoding":{"x":{"field":"from","type":"nominal","bandPosition":1.2143},"y":{"field":"level","type":"quantitative","axis":{"title":"MDA (nmol/L)","values":[0,20,40,60,80,100],"labelFontSize":10.5}},"text":{"field":"label"}}},
{"data":{"name":"sig"},"transform":[{"filter":"datum.panel==='E' && datum.to!=='HFD' && datum.label!=='NS'"}],"mark":{"type":"text","fontSize":13.5,"fontWeight":"bold","baseline":"alphabetic","dy":1},"encoding":{"x":{"field":"from","type":"nominal","bandPosition":1.2143},"y":{"field":"level","type":"quantitative","axis":{"title":"MDA (nmol/L)","values":[0,20,40,60,80,100],"labelFontSize":10.5}},"text":{"field":"label"}}},
{"data":{"name":"sig"},"transform":[{"filter":"datum.panel==='E' && datum.to==='HFD' && datum.label==='NS'"}],"mark":{"type":"text","fontSize":9.5,"baseline":"alphabetic","dy":-5,"dx":-3},"encoding":{"x":{"field":"from","type":"nominal","bandPosition":1.9286},"y":{"field":"level","type":"quantitative","axis":{"title":"MDA (nmol/L)","values":[0,20,40,60,80,100],"labelFontSize":10.5}},"text":{"field":"label"}}},
{"data":{"name":"sig"},"transform":[{"filter":"datum.panel==='E' && datum.to==='HFD' && datum.label!=='NS'"}],"mark":{"type":"text","fontSize":13.5,"fontWeight":"bold","baseline":"alphabetic","dy":1,"dx":-3},"encoding":{"x":{"field":"from","type":"nominal","bandPosition":1.9286},"y":{"field":"level","type":"quantitative","axis":{"title":"MDA (nmol/L)","values":[0,20,40,60,80,100],"labelFontSize":10.5}},"text":{"field":"label"}}}
]},
{"width":170,"height":111,"title":{"text":"F","dx":-55,"dy":15},
"encoding":{"x":{"field":"group","type":"nominal","scale":{"domain":["LFD","LFD+PNS","HFD","HFD+PNS"],"paddingInner":0.3,"paddingOuter":0.35},"axis":{"title":null}}},
"layer":[
{"data":{"name":"summ"},"transform":[{"filter":"datum.panel==='F'"}],"mark":{"type":"bar"},"encoding":{"y":{"field":"mean","type":"quantitative","scale":{"domain":[0,2],"nice":false},"axis":{"title":"IL-1β (pg/mL)","values":[0,0.5,1,1.5,2],"format":".1f","titleFontSize":12.5,"labelFontSize":11.5}},"color":{"field":"group","type":"nominal","scale":{"domain":["LFD","LFD+PNS","HFD","HFD+PNS"],"range":["#1a8c1f","#ff6a10","#15819a","#7c0a8e"]},"legend":null}}},
{"data":{"name":"summ"},"transform":[{"filter":"datum.panel==='F'"}],"mark":{"type":"rule","color":"#000","strokeWidth":1.2},"encoding":{"y":{"field":"lo","type":"quantitative","axis":{"title":"IL-1β (pg/mL)","values":[0,0.5,1,1.5,2],"format":".1f","titleFontSize":12.5,"labelFontSize":11.5}},"y2":{"field":"hi"}}},
{"data":{"name":"summ"},"transform":[{"filter":"datum.panel==='F'"}],"mark":{"type":"tick","color":"#000","size":13,"thickness":1.2},"encoding":{"y":{"field":"lo","type":"quantitative","axis":{"title":"IL-1β (pg/mL)","values":[0,0.5,1,1.5,2],"format":".1f","titleFontSize":12.5,"labelFontSize":11.5}}}},
{"data":{"name":"summ"},"transform":[{"filter":"datum.panel==='F'"}],"mark":{"type":"tick","color":"#000","size":13,"thickness":1.2},"encoding":{"y":{"field":"hi","type":"quantitative","axis":{"title":"IL-1β (pg/mL)","values":[0,0.5,1,1.5,2],"format":".1f","titleFontSize":12.5,"labelFontSize":11.5}}}},
{"data":{"name":"pts"},"transform":[{"filter":"datum.panel==='F'"}],"mark":{"type":"circle","color":"#000","size":18,"opacity":1},"encoding":{"y":{"field":"value","type":"quantitative","axis":{"title":"IL-1β (pg/mL)","values":[0,0.5,1,1.5,2],"format":".1f","titleFontSize":12.5,"labelFontSize":11.5}}}},
{"data":{"name":"sig"},"transform":[{"filter":"datum.panel==='F' && datum.to!=='HFD'"}],"mark":{"type":"rule","color":"#000","strokeWidth":1.2},"encoding":{"x":{"field":"from","type":"nominal"},"x2":{"field":"to"},"y":{"field":"level","type":"quantitative","axis":{"title":"IL-1β (pg/mL)","values":[0,0.5,1,1.5,2],"format":".1f","titleFontSize":12.5,"labelFontSize":11.5}}}},
{"data":{"name":"sig"},"transform":[{"filter":"datum.panel==='F' && datum.to==='HFD'"}],"mark":{"type":"rule","color":"#000","strokeWidth":1.2,"x2Offset":-6},"encoding":{"x":{"field":"from","type":"nominal"},"x2":{"field":"to"},"y":{"field":"level","type":"quantitative","axis":{"title":"IL-1β (pg/mL)","values":[0,0.5,1,1.5,2],"format":".1f","titleFontSize":12.5,"labelFontSize":11.5}}}},
{"data":{"name":"sig"},"transform":[{"filter":"datum.panel==='F'"}],"mark":{"type":"rule","color":"#000","strokeWidth":1.2,"y2Offset":5},"encoding":{"x":{"field":"from","type":"nominal"},"y":{"field":"level","type":"quantitative","axis":{"title":"IL-1β (pg/mL)","values":[0,0.5,1,1.5,2],"format":".1f","titleFontSize":12.5,"labelFontSize":11.5}},"y2":{"field":"level"}}},
{"data":{"name":"sig"},"transform":[{"filter":"datum.panel==='F' && datum.to!=='HFD'"}],"mark":{"type":"rule","color":"#000","strokeWidth":1.2,"y2Offset":5},"encoding":{"x":{"field":"to","type":"nominal"},"y":{"field":"level","type":"quantitative","axis":{"title":"IL-1β (pg/mL)","values":[0,0.5,1,1.5,2],"format":".1f","titleFontSize":12.5,"labelFontSize":11.5}},"y2":{"field":"level"}}},
{"data":{"name":"sig"},"transform":[{"filter":"datum.panel==='F' && datum.to==='HFD'"}],"mark":{"type":"rule","color":"#000","strokeWidth":1.2,"y2Offset":5,"xOffset":-6},"encoding":{"x":{"field":"to","type":"nominal"},"y":{"field":"level","type":"quantitative","axis":{"title":"IL-1β (pg/mL)","values":[0,0.5,1,1.5,2],"format":".1f","titleFontSize":12.5,"labelFontSize":11.5}},"y2":{"field":"level"}}},
{"data":{"name":"sig"},"transform":[{"filter":"datum.panel==='F' && datum.to!=='HFD' && datum.label==='NS'"}],"mark":{"type":"text","fontSize":9.5,"baseline":"alphabetic","dy":-5},"encoding":{"x":{"field":"from","type":"nominal","bandPosition":1.2143},"y":{"field":"level","type":"quantitative","axis":{"title":"IL-1β (pg/mL)","values":[0,0.5,1,1.5,2],"format":".1f","titleFontSize":12.5,"labelFontSize":11.5}},"text":{"field":"label"}}},
{"data":{"name":"sig"},"transform":[{"filter":"datum.panel==='F' && datum.to!=='HFD' && datum.label!=='NS'"}],"mark":{"type":"text","fontSize":13.5,"fontWeight":"bold","baseline":"alphabetic","dy":1},"encoding":{"x":{"field":"from","type":"nominal","bandPosition":1.2143},"y":{"field":"level","type":"quantitative","axis":{"title":"IL-1β (pg/mL)","values":[0,0.5,1,1.5,2],"format":".1f","titleFontSize":12.5,"labelFontSize":11.5}},"text":{"field":"label"}}},
{"data":{"name":"sig"},"transform":[{"filter":"datum.panel==='F' && datum.to==='HFD' && datum.label==='NS'"}],"mark":{"type":"text","fontSize":9.5,"baseline":"alphabetic","dy":-5,"dx":-3},"encoding":{"x":{"field":"from","type":"nominal","bandPosition":1.9286},"y":{"field":"level","type":"quantitative","axis":{"title":"IL-1β (pg/mL)","values":[0,0.5,1,1.5,2],"format":".1f","titleFontSize":12.5,"labelFontSize":11.5}},"text":{"field":"label"}}},
{"data":{"name":"sig"},"transform":[{"filter":"datum.panel==='F' && datum.to==='HFD' && datum.label!=='NS'"}],"mark":{"type":"text","fontSize":13.5,"fontWeight":"bold","baseline":"alphabetic","dy":1,"dx":-3},"encoding":{"x":{"field":"from","type":"nominal","bandPosition":1.9286},"y":{"field":"level","type":"quantitative","axis":{"title":"IL-1β (pg/mL)","values":[0,0.5,1,1.5,2],"format":".1f","titleFontSize":12.5,"labelFontSize":11.5}},"text":{"field":"label"}}}
]},
{"width":170,"height":111,"title":{"text":"G","dx":-50,"dy":7},
"encoding":{"x":{"field":"group","type":"nominal","scale":{"domain":["LFD","LFD+PNS","HFD","HFD+PNS"],"paddingInner":0.3,"paddingOuter":0.35},"axis":{"title":null}}},
"layer":[
{"data":{"name":"summ"},"transform":[{"filter":"datum.panel==='G'"}],"mark":{"type":"bar"},"encoding":{"y":{"field":"mean","type":"quantitative","scale":{"domain":[0,1500],"nice":false},"axis":{"title":"TNF-α (pg/mL)","values":[0,500,1000,1500],"format":"d","labelFontSize":10.5}},"color":{"field":"group","type":"nominal","scale":{"domain":["LFD","LFD+PNS","HFD","HFD+PNS"],"range":["#1a8c1f","#ff6a10","#15819a","#7c0a8e"]},"legend":null}}},
{"data":{"name":"summ"},"transform":[{"filter":"datum.panel==='G'"}],"mark":{"type":"rule","color":"#000","strokeWidth":1.2},"encoding":{"y":{"field":"lo","type":"quantitative","axis":{"title":"TNF-α (pg/mL)","values":[0,500,1000,1500],"format":"d","labelFontSize":10.5}},"y2":{"field":"hi"}}},
{"data":{"name":"summ"},"transform":[{"filter":"datum.panel==='G'"}],"mark":{"type":"tick","color":"#000","size":13,"thickness":1.2},"encoding":{"y":{"field":"lo","type":"quantitative","axis":{"title":"TNF-α (pg/mL)","values":[0,500,1000,1500],"format":"d","labelFontSize":10.5}}}},
{"data":{"name":"summ"},"transform":[{"filter":"datum.panel==='G'"}],"mark":{"type":"tick","color":"#000","size":13,"thickness":1.2},"encoding":{"y":{"field":"hi","type":"quantitative","axis":{"title":"TNF-α (pg/mL)","values":[0,500,1000,1500],"format":"d","labelFontSize":10.5}}}},
{"data":{"name":"pts"},"transform":[{"filter":"datum.panel==='G'"}],"mark":{"type":"circle","color":"#000","size":18,"opacity":1},"encoding":{"y":{"field":"value","type":"quantitative","axis":{"title":"TNF-α (pg/mL)","values":[0,500,1000,1500],"format":"d","labelFontSize":10.5}}}},
{"data":{"name":"sig"},"transform":[{"filter":"datum.panel==='G' && datum.to!=='HFD'"}],"mark":{"type":"rule","color":"#000","strokeWidth":1.2},"encoding":{"x":{"field":"from","type":"nominal"},"x2":{"field":"to"},"y":{"field":"level","type":"quantitative","axis":{"title":"TNF-α (pg/mL)","values":[0,500,1000,1500],"format":"d","labelFontSize":10.5}}}},
{"data":{"name":"sig"},"transform":[{"filter":"datum.panel==='G' && datum.to==='HFD'"}],"mark":{"type":"rule","color":"#000","strokeWidth":1.2,"x2Offset":-6},"encoding":{"x":{"field":"from","type":"nominal"},"x2":{"field":"to"},"y":{"field":"level","type":"quantitative","axis":{"title":"TNF-α (pg/mL)","values":[0,500,1000,1500],"format":"d","labelFontSize":10.5}}}},
{"data":{"name":"sig"},"transform":[{"filter":"datum.panel==='G'"}],"mark":{"type":"rule","color":"#000","strokeWidth":1.2,"y2Offset":5},"encoding":{"x":{"field":"from","type":"nominal"},"y":{"field":"level","type":"quantitative","axis":{"title":"TNF-α (pg/mL)","values":[0,500,1000,1500],"format":"d","labelFontSize":10.5}},"y2":{"field":"level"}}},
{"data":{"name":"sig"},"transform":[{"filter":"datum.panel==='G' && datum.to!=='HFD'"}],"mark":{"type":"rule","color":"#000","strokeWidth":1.2,"y2Offset":5},"encoding":{"x":{"field":"to","type":"nominal"},"y":{"field":"level","type":"quantitative","axis":{"title":"TNF-α (pg/mL)","values":[0,500,1000,1500],"format":"d","labelFontSize":10.5}},"y2":{"field":"level"}}},
{"data":{"name":"sig"},"transform":[{"filter":"datum.panel==='G' && datum.to==='HFD'"}],"mark":{"type":"rule","color":"#000","strokeWidth":1.2,"y2Offset":5,"xOffset":-6},"encoding":{"x":{"field":"to","type":"nominal"},"y":{"field":"level","type":"quantitative","axis":{"title":"TNF-α (pg/mL)","values":[0,500,1000,1500],"format":"d","labelFontSize":10.5}},"y2":{"field":"level"}}},
{"data":{"name":"sig"},"transform":[{"filter":"datum.panel==='G' && datum.to!=='HFD' && datum.label==='NS'"}],"mark":{"type":"text","fontSize":9.5,"baseline":"alphabetic","dy":-5},"encoding":{"x":{"field":"from","type":"nominal","bandPosition":1.2143},"y":{"field":"level","type":"quantitative","axis":{"title":"TNF-α (pg/mL)","values":[0,500,1000,1500],"format":"d","labelFontSize":10.5}},"text":{"field":"label"}}},
{"data":{"name":"sig"},"transform":[{"filter":"datum.panel==='G' && datum.to!=='HFD' && datum.label!=='NS'"}],"mark":{"type":"text","fontSize":13.5,"fontWeight":"bold","baseline":"alphabetic","dy":1},"encoding":{"x":{"field":"from","type":"nominal","bandPosition":1.2143},"y":{"field":"level","type":"quantitative","axis":{"title":"TNF-α (pg/mL)","values":[0,500,1000,1500],"format":"d","labelFontSize":10.5}},"text":{"field":"label"}}},
{"data":{"name":"sig"},"transform":[{"filter":"datum.panel==='G' && datum.to==='HFD' && datum.label==='NS'"}],"mark":{"type":"text","fontSize":9.5,"baseline":"alphabetic","dy":-5,"dx":-3},"encoding":{"x":{"field":"from","type":"nominal","bandPosition":1.9286},"y":{"field":"level","type":"quantitative","axis":{"title":"TNF-α (pg/mL)","values":[0,500,1000,1500],"format":"d","labelFontSize":10.5}},"text":{"field":"label"}}},
{"data":{"name":"sig"},"transform":[{"filter":"datum.panel==='G' && datum.to==='HFD' && datum.label!=='NS'"}],"mark":{"type":"text","fontSize":13.5,"fontWeight":"bold","baseline":"alphabetic","dy":1,"dx":-3},"encoding":{"x":{"field":"from","type":"nominal","bandPosition":1.9286},"y":{"field":"level","type":"quantitative","axis":{"title":"TNF-α (pg/mL)","values":[0,500,1000,1500],"format":"d","labelFontSize":10.5}},"text":{"field":"label"}}}
]}
],
"config":{
"view":{"stroke":null},
"font":"Liberation Sans",
"text":{"font":"Liberation Sans","color":"#000"},
"axis":{"domainColor":"#000","domainWidth":1.2,"tickColor":"#000","tickWidth":1.2,"tickSize":5,"labelColor":"#000","labelFont":"Liberation Sans","labelFontSize":10.5,"titleColor":"#000","titleFont":"Liberation Sans","titleFontSize":11,"titleFontWeight":"normal","grid":false,"labelPadding":2,"titlePadding":4},
"axisX":{"labelAngle":-45,"labelFontSize":10.5},
"axisY":{"labelFontSize":10},
"title":{"anchor":"start","frame":"group","font":"Liberation Sans","fontSize":22,"fontWeight":"normal","color":"#000","offset":4}
}
}
